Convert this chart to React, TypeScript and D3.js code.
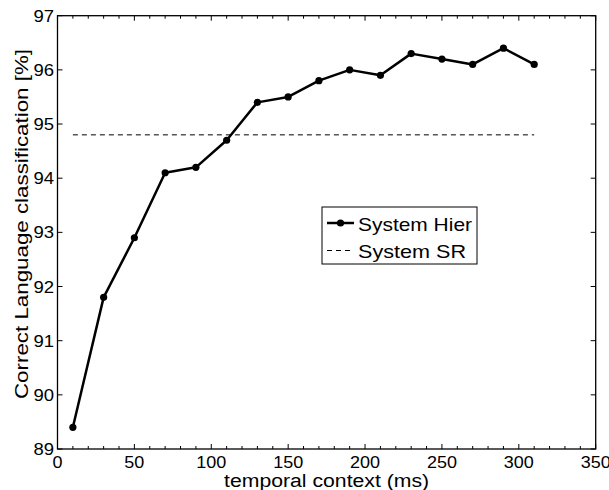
import React from "react";
import * as d3 from "d3";

const xValues = [10, 30, 50, 70, 90, 110, 130, 150, 170, 190, 210, 230, 250, 270, 290, 310];
const hierValues = [89.4, 91.8, 92.9, 94.1, 94.2, 94.7, 95.4, 95.5, 95.8, 96.0, 95.9, 96.3, 96.2, 96.1, 96.4, 96.1];
const srValue = 94.8;
const srRange = [10, 310];
const xTicks = [0, 50, 100, 150, 200, 250, 300, 350];
const xMinorTicks = d3.range(0, 351, 10);
const yTicks = [89, 90, 91, 92, 93, 94, 95, 96, 97];
const seriesNames = ["System Hier", "System SR"];
const xLabel = "temporal context (ms)";
const yLabel = "Correct Language classification [%]";

const W = 609;
const H = 490;
const L = 57.5, R = 595.7, T = 15.7, B = 449;
const FONT = "'Liberation Sans', Arial, Helvetica, sans-serif";

export default function App() {
  const x = d3.scaleLinear().domain([0, 350]).range([L, R]);
  const y = d3.scaleLinear().domain([89, 97]).range([B, T]);
  const line = d3.line<number>().x((_, i) => x(xValues[i])).y((d) => y(d));
  const pathD = line(hierValues) || "";

  return (
    <svg width={W} height={H} style={{ position: "absolute", left: 0, top: 0, background: "#fff" }}>
      <rect x={0} y={0} width={W} height={H} fill="#fff" />
      {/* minor x ticks */}
      {xMinorTicks.map((t) => {
        const major = t % 50 === 0;
        const len = major ? 5 : 3;
        return (
          <g key={"mx" + t} stroke="#000" strokeWidth={1}>
            <line x1={x(t)} x2={x(t)} y1={B} y2={B - len} />
            <line x1={x(t)} x2={x(t)} y1={T} y2={T + len} />
          </g>
        );
      })}
      {yTicks.map((t) => (
        <g key={"yt" + t} stroke="#000" strokeWidth={1}>
          <line x1={L} x2={L + 5} y1={y(t)} y2={y(t)} />
          <line x1={R} x2={R - 5} y1={y(t)} y2={y(t)} />
        </g>
      ))}
      {/* box */}
      <rect x={L} y={T} width={R - L} height={B - T} fill="none" stroke="#000" strokeWidth={1.3} />
      {/* tick labels */}
      {xTicks.map((t) => (
        <text key={"xl" + t} x={x(t)} y={468} textAnchor="middle" fontFamily={FONT} fontSize={17}
          textLength={String(t).length * 10} lengthAdjust="spacingAndGlyphs">
          {t}
        </text>
      ))}
      {yTicks.map((t) => (
        <text key={"yl" + t} x={54} y={y(t) + 6} textAnchor="end" fontFamily={FONT} fontSize={17}
          textLength={String(t).length * 10.3} lengthAdjust="spacingAndGlyphs">
          {t}
        </text>
      ))}
      {/* axis labels */}
      <text x={(L + R) / 2} y={487} textAnchor="middle" fontFamily={FONT} fontSize={18}
        textLength={205} lengthAdjust="spacingAndGlyphs">
        {xLabel}
      </text>
      <text transform={`translate(28,${(49 + 399) / 2}) rotate(-90)`} textAnchor="middle" fontFamily={FONT} fontSize={18}
        textLength={350} lengthAdjust="spacingAndGlyphs">
        {yLabel}
      </text>
      {/* SR dashed line */}
      <line x1={x(srRange[0])} x2={x(srRange[1])} y1={y(srValue)} y2={y(srValue)} stroke="#000" strokeWidth={1} strokeDasharray="5,4" />
      {/* Hier line */}
      <path d={pathD} fill="none" stroke="#000" strokeWidth={2.5} strokeLinejoin="round" />
      {hierValues.map((v, i) => (
        <circle key={"p" + i} cx={x(xValues[i])} cy={y(v)} r={3.6} fill="#000" />
      ))}
      {/* legend */}
      <rect x={322} y={207} width={155} height={57} fill="#fff" stroke="#000" strokeWidth={1} />
      <line x1={327} x2={354} y1={223} y2={223} stroke="#000" strokeWidth={2.5} />
      <circle cx={340.5} cy={223} r={3.6} fill="#000" />
      <text x={358} y={231} fontFamily={FONT} fontSize={19} textLength={114} lengthAdjust="spacingAndGlyphs">{seriesNames[0]}</text>
      <line x1={327} x2={354} y1={250.5} y2={250.5} stroke="#000" strokeWidth={1} strokeDasharray="5,4" />
      <text x={358} y={258} fontFamily={FONT} fontSize={19} textLength={108} lengthAdjust="spacingAndGlyphs">{seriesNames[1]}</text>
    </svg>
  );
}
